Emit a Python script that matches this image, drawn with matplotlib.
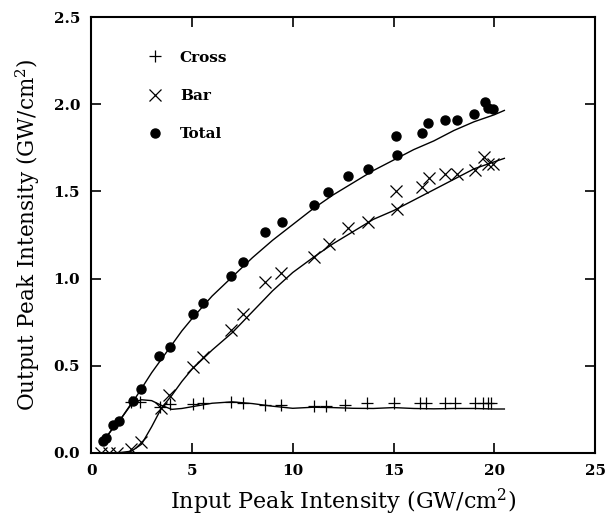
import numpy as np
import matplotlib
matplotlib.use("Agg")
import matplotlib.pyplot as plt

plt.rcParams["mathtext.fontset"] = "dejavuserif"

# measured points (GW/cm^2)
cross_x = [2.0, 2.4, 3.42, 3.92, 5.04, 5.57, 6.93, 7.52, 8.6, 9.42, 11.06, 11.66,
           12.6, 13.67, 15.03, 16.32, 16.62, 17.56, 18.06, 19.05, 19.46, 19.71, 19.83]
cross_y = [0.29, 0.29, 0.265, 0.28, 0.28, 0.285, 0.29, 0.285, 0.275, 0.275, 0.27, 0.27,
           0.275, 0.288, 0.288, 0.288, 0.288, 0.288, 0.288, 0.288, 0.288, 0.288, 0.285]

bar_x = [0.5, 0.9, 1.3, 2.0, 2.46, 3.46, 3.84, 5.04, 5.57, 6.93, 7.52, 8.63, 9.42,
         11.08, 11.81, 12.76, 13.72, 15.11, 15.16, 16.4, 16.77, 17.56, 18.17, 19.05,
         19.49, 19.71, 19.92]
bar_y = [0.0, 0.0, 0.0, 0.02, 0.065, 0.256, 0.33, 0.495, 0.552, 0.705, 0.795, 0.982, 1.03,
         1.125, 1.20, 1.293, 1.322, 1.503, 1.398, 1.523, 1.58, 1.599, 1.599, 1.626,
         1.698, 1.656, 1.66]

total_x = [0.6, 0.73, 1.1, 1.39, 2.08, 2.46, 3.39, 3.92, 5.04, 5.57, 6.93, 7.52, 8.63,
           9.46, 11.06, 11.77, 12.72, 13.72, 15.11, 15.16, 16.4, 16.73, 17.56, 18.17,
           19.0, 19.54, 19.71, 19.92]
total_y = [0.067, 0.085, 0.158, 0.185, 0.30, 0.367, 0.556, 0.61, 0.797, 0.858, 1.014,
           1.096, 1.268, 1.325, 1.421, 1.497, 1.591, 1.628, 1.817, 1.711, 1.838, 1.895,
           1.912, 1.912, 1.947, 2.013, 1.98, 1.975]

# fitted curves
fit_x = [0.5, 1, 1.5, 2, 2.5, 3, 3.5, 4, 4.5, 5, 6, 7, 8, 9, 10, 11, 12, 13, 14, 15,
         16, 17, 18, 19, 20, 20.5]
cross_fit = [0.05, 0.13, 0.20, 0.285, 0.305, 0.30, 0.272, 0.25, 0.255, 0.265, 0.285,
             0.293, 0.283, 0.268, 0.256, 0.262, 0.26, 0.256, 0.255, 0.26, 0.255, 0.253,
             0.255, 0.255, 0.252, 0.252]
bar_fit = [0.0, 0.0, 0.003, 0.01, 0.05, 0.15, 0.26, 0.33, 0.41, 0.48, 0.59, 0.69, 0.81,
           0.93, 1.035, 1.12, 1.20, 1.27, 1.34, 1.39, 1.45, 1.51, 1.57, 1.63, 1.67, 1.69]
total_fit = [0.05, 0.13, 0.20, 0.28, 0.37, 0.46, 0.54, 0.62, 0.70, 0.77, 0.90, 1.01,
             1.12, 1.22, 1.31, 1.40, 1.48, 1.55, 1.62, 1.68, 1.74, 1.79, 1.85, 1.90,
             1.94, 1.965]

fig = plt.figure(figsize=(6.16, 5.2), dpi=100)
ax = fig.add_axes([0.148, 0.129, 0.818, 0.838])

ax.plot(fit_x, cross_fit, color="black", lw=1.0)
ax.plot(fit_x, bar_fit, color="black", lw=1.0)
ax.plot(fit_x, total_fit, color="black", lw=1.0)

ax.plot(cross_x, cross_y, ls="none", marker="+", ms=9, mew=0.9, color="black", label="Cross")
ax.plot(bar_x, bar_y, ls="none", marker="x", ms=8, mew=0.9, color="black", label="Bar")
ax.plot(total_x, total_y, ls="none", marker="o", ms=6.5, color="black", label="Total")

ax.set_xlim(0, 25)
ax.set_ylim(0, 2.5)
ax.set_xticks([0, 5, 10, 15, 20, 25])
ax.set_yticks([0.0, 0.5, 1.0, 1.5, 2.0, 2.5])
ax.set_yticklabels(["0.0", "0.5", "1.0", "1.5", "2.0", "2.5"])
ax.tick_params(direction="in", length=7, width=1.2, top=True, right=True, pad=8)
for lab in ax.get_xticklabels() + ax.get_yticklabels():
    lab.set_fontfamily("DejaVu Serif")
    lab.set_fontweight("bold")
    lab.set_fontsize(11)
for s in ax.spines.values():
    s.set_linewidth(1.5)

ax.set_xlabel("Input Peak Intensity (GW/cm$^2$)", family="DejaVu Serif", fontsize=16, labelpad=6)
ax.set_ylabel("Output Peak Intensity (GW/cm$^2$)", family="DejaVu Serif", fontsize=15.5, labelpad=8)

leg = ax.legend(loc="upper left", bbox_to_anchor=(0.085, 0.955), frameon=False,
                labelspacing=1.6, handletextpad=1.1, handlelength=1.0,
                prop={"family": "DejaVu Serif", "weight": "bold", "size": 11})

fig.savefig("out.png", dpi=100)
